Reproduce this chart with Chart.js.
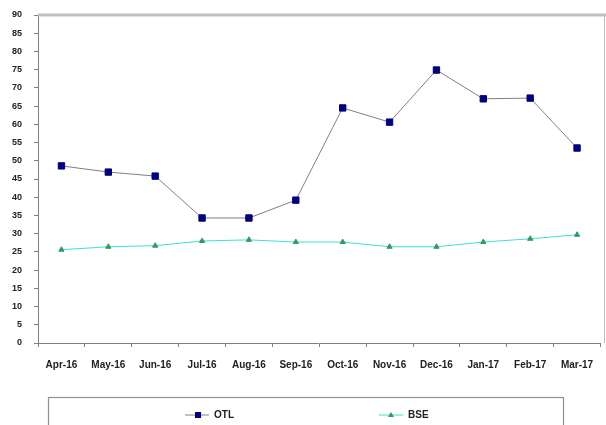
<!DOCTYPE html>
<html>
<head>
<meta charset="utf-8">
<script src="https://cdn.jsdelivr.net/npm/chart.js@4/dist/chart.umd.min.js"></script>
<style>
  html, body { margin: 0; padding: 0; background: #fff; }
  #wrap { width: 606px; height: 425px; }
</style>
</head>
<body>
<div id="wrap"><canvas id="graf" width="606" height="425"></canvas></div>
<script>
// podaci
const mjeseci = ['Apr-16', 'May-16', 'Jun-16', 'Jul-16', 'Aug-16', 'Sep-16', 'Oct-16', 'Nov-16', 'Dec-16', 'Jan-17', 'Feb-17', 'Mar-17'];
const otl = [48.6, 46.9, 45.8, 34.3, 34.3, 39.2, 64.5, 60.6, 74.9, 67.0, 67.2, 53.5];
const bse = [25.6, 26.4, 26.7, 28.0, 28.3, 27.7, 27.7, 26.4, 26.4, 27.7, 28.6, 29.7];
const yMax = 90;
const yKorak = 5;

const obitelj = 'Liberation Sans, Arial, sans-serif';

// okvir gore i desno + legenda u kutiji
const okvir = {
  id: 'okvir',
  afterDraw(chart) {
    const { ctx, chartArea: a } = chart;
    ctx.save();
    ctx.strokeStyle = '#c0c0c0';
    ctx.lineWidth = 3;
    ctx.beginPath();
    ctx.moveTo(a.left, a.top);
    ctx.lineTo(606, a.top);
    ctx.stroke();
    ctx.lineWidth = 1;
    ctx.beginPath();
    ctx.moveTo(604.5, a.top);
    ctx.lineTo(604.5, a.bottom);
    ctx.stroke();

    // legenda
    ctx.strokeStyle = '#909090';
    ctx.lineWidth = 1.2;
    ctx.strokeRect(48.5, 397.5, 515, 40);
    const stavke = [
      { ds: chart.data.datasets[0], x: 185 },
      { ds: chart.data.datasets[1], x: 379 }
    ];
    ctx.font = 'bold 10px ' + obitelj;
    ctx.textBaseline = 'middle';
    for (const s of stavke) {
      const y = 415;
      ctx.strokeStyle = s.ds.borderColor;
      ctx.lineWidth = 1;
      ctx.beginPath();
      ctx.moveTo(s.x, y);
      ctx.lineTo(s.x + 24, y);
      ctx.stroke();
      ctx.fillStyle = s.ds.pointBackgroundColor;
      if (s.ds.pointStyle === 'rect') {
        ctx.fillRect(s.x + 10, y - 3, 6, 6);
      } else {
        ctx.beginPath();
        ctx.moveTo(s.x + 12, y - 3);
        ctx.lineTo(s.x + 15, y + 2);
        ctx.lineTo(s.x + 9, y + 2);
        ctx.closePath();
        ctx.fill();
      }
      ctx.fillStyle = '#222';
      ctx.fillText(s.ds.label, s.x + 29, y);
    }
    ctx.restore();
  }
};

new Chart(document.getElementById('graf'), {
  type: 'line',
  data: {
    labels: mjeseci,
    datasets: [
      {
        label: 'OTL',
        data: otl,
        borderColor: '#808080',
        borderWidth: 1,
        pointStyle: 'rect',
        pointRadius: 4.5,
        pointBackgroundColor: '#000080',
        pointBorderColor: '#000080',
        tension: 0
      },
      {
        label: 'BSE',
        data: bse,
        borderColor: '#40e0d0',
        borderWidth: 1,
        pointStyle: 'triangle',
        pointRadius: 3,
        pointBackgroundColor: '#339966',
        pointBorderColor: '#339966',
        tension: 0
      }
    ]
  },
  options: {
    responsive: false,
    animation: false,
    layout: { padding: { top: 15, right: 2, bottom: 52, left: 0 } },
    plugins: { legend: { display: false }, tooltip: { enabled: false } },
    scales: {
      x: {
        offset: true,
        grid: { offset: true, drawOnChartArea: false, tickLength: 4, color: '#808080' },
        border: { color: '#808080', width: 1 },
        ticks: { font: { family: obitelj, size: 10, weight: 'bold' }, color: '#222', maxRotation: 0, autoSkip: false, padding: 12 },
        afterFit: s => { s.height = 30; }
      },
      y: {
        min: 0,
        max: yMax,
        grid: { drawOnChartArea: false, tickLength: 4, color: '#808080' },
        border: { color: '#808080', width: 1 },
        ticks: { stepSize: yKorak, font: { family: obitelj, size: 9, weight: 'bold' }, color: '#222', padding: 12 },
        afterFit: s => { s.width = 38; s.paddingTop = 5; s.paddingBottom = 5; }
      }
    }
  },
  plugins: [okvir]
});
</script>
</body>
</html>
